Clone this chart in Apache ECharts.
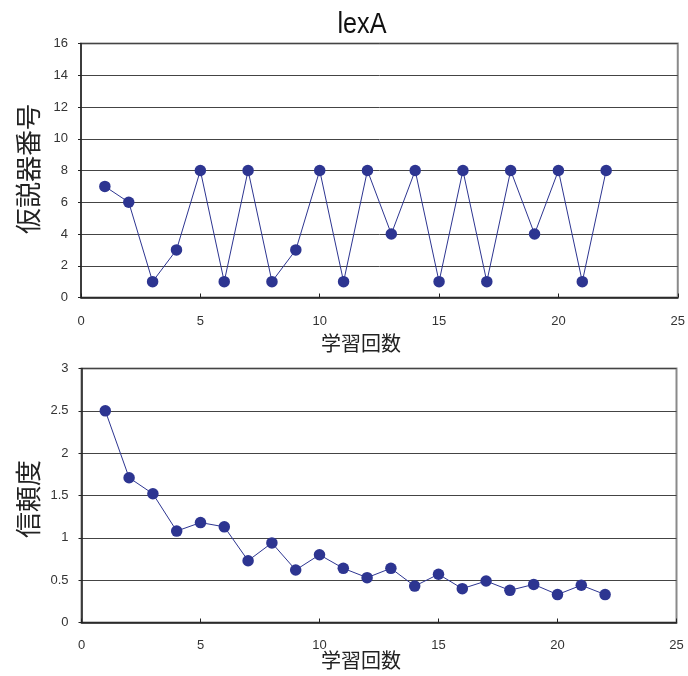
<!DOCTYPE html>
<html>
<head>
<meta charset="utf-8">
<script src="https://cdn.jsdelivr.net/npm/echarts@6/dist/echarts.min.js"></script>
<style>
  html, body { margin: 0; padding: 0; background: #fff; }
  #chart { width: 688px; height: 676px; }
</style>
</head>
<body>
<div id="chart"></div>
<script>
// Learning step index (x) shared by both panels
const steps = [1,2,3,4,5,6,7,8,9,10,11,12,13,14,15,16,17,18,19,20,21,22];
// Hypothesis number chosen at each step
const hypothesis = [7,6,1,3,8,1,8,1,3,8,1,8,4,8,1,8,1,8,4,8,1,8];
// Confidence at each step
const confidence = [2.5,1.71,1.52,1.08,1.18,1.13,0.73,0.94,0.62,0.80,0.64,0.53,0.64,0.43,0.57,0.40,0.49,0.38,0.45,0.33,0.44,0.33];

const titleText = 'lexA';
const xName = '学習回数';
const yNameTop = '仮説器番号';
const yNameBottom = '信頼度';

const markColor = '#2d3591';
const tickFont = { fontFamily: 'Liberation Sans', fontSize: 13, color: '#333' };
const cjkFont = '"Noto Sans CJK JP"';

function pairs(ys) { return steps.map((x, i) => [x, ys[i]]); }

function xAxisDef(gridIndex, margin) {
  return {
    gridIndex, type: 'value', min: 0, max: 25, interval: 5,
    axisLine: { show: true, onZero: false, lineStyle: { color: '#222', width: 1.5 } },
    axisTick: { show: true, inside: true, length: 4, lineStyle: { color: '#222' } },
    axisLabel: Object.assign({ margin }, tickFont),
    splitLine: { show: false }
  };
}

function yAxisDef(gridIndex, max, interval) {
  return {
    gridIndex, type: 'value', min: 0, max, interval,
    axisLine: { show: true, lineStyle: { color: '#222', width: 1.5 } },
    axisTick: { show: true, length: 3, lineStyle: { color: '#222' } },
    axisLabel: Object.assign({ margin: 13 }, tickFont),
    splitLine: { show: true, lineStyle: { color: '#444', width: 1 } }
  };
}

function seriesDef(idx, ys) {
  return {
    type: 'line', xAxisIndex: idx, yAxisIndex: idx,
    data: pairs(ys),
    symbol: 'circle', symbolSize: 11.5,
    itemStyle: { color: markColor },
    lineStyle: { color: markColor, width: 1 },
    animation: false
  };
}

const chart = echarts.init(document.getElementById('chart'), null, { renderer: 'canvas' });
chart.setOption({
  backgroundColor: '#fff',
  animation: false,
  grid: [
    { left: 81, top: 43.5, width: 598, height: 254, show: true, borderColor: '#8a8a8a', borderWidth: 2 },
    { left: 81.5, top: 368.5, width: 595, height: 254, show: true, borderColor: '#8a8a8a', borderWidth: 2 }
  ],
  xAxis: [xAxisDef(0, 17), xAxisDef(1, 16)],
  yAxis: [yAxisDef(0, 16, 2), yAxisDef(1, 3, 0.5)],
  series: [seriesDef(0, hypothesis), seriesDef(1, confidence)],
  graphic: [
    { type: 'text', x: 362, y: 25, scaleX: 0.87,
      style: { text: titleText, font: '29px "Liberation Sans"', fill: '#111', textAlign: 'center', textVerticalAlign: 'middle' } },
    { type: 'text', x: 361, y: 343,
      style: { text: xName, font: '20px ' + cjkFont, fill: '#222', textAlign: 'center', textVerticalAlign: 'middle' } },
    { type: 'text', x: 361, y: 660,
      style: { text: xName, font: '20px ' + cjkFont, fill: '#222', textAlign: 'center', textVerticalAlign: 'middle' } },
    { type: 'text', x: 28, y: 169, rotation: Math.PI / 2,
      style: { text: yNameTop, font: '26px ' + cjkFont, fill: '#222', textAlign: 'center', textVerticalAlign: 'middle' } },
    { type: 'text', x: 28, y: 499, rotation: Math.PI / 2,
      style: { text: yNameBottom, font: '26px ' + cjkFont, fill: '#222', textAlign: 'center', textVerticalAlign: 'middle' } }
  ]
});
</script>
</body>
</html>
